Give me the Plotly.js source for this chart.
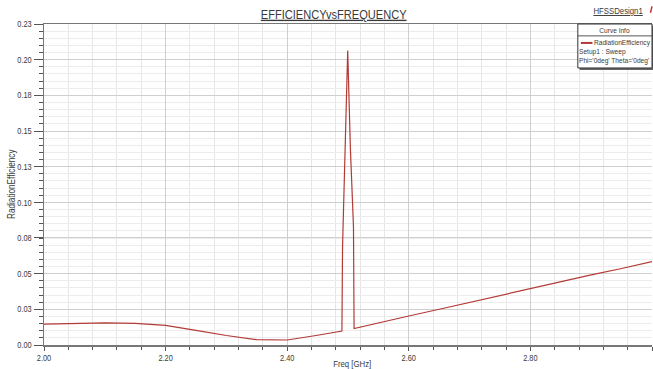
<!DOCTYPE html>
<html>
<head>
<meta charset="utf-8">
<script src="https://cdn.plot.ly/plotly-3.0.1.min.js"></script>
<style>html,body{margin:0;padding:0;background:#fff;}#chart{width:653px;height:369px;}</style>
</head>
<body>
<div id="chart"></div>
<script>
// Data
var freqGHz = [2.00, 2.05, 2.10, 2.15, 2.20, 2.25, 2.30, 2.35, 2.40, 2.45, 2.49, 2.491, 2.4995, 2.504, 2.509, 2.510, 2.55, 2.60, 2.65, 2.70, 2.75, 2.80, 2.85, 2.90, 2.95, 3.00];
var radiationEfficiency = [0.0150, 0.0155, 0.0158, 0.0155, 0.0141, 0.0105, 0.0068, 0.0038, 0.0036, 0.0070, 0.0100, 0.0700, 0.2110, 0.1400, 0.0850, 0.0118, 0.0160, 0.0208, 0.0256, 0.0305, 0.0355, 0.0408, 0.0455, 0.0502, 0.0548, 0.0597];
var xTickVals = [2.0, 2.2, 2.4, 2.6, 2.8, 3.0];
var xTickText = ['2.00', '2.20', '2.40', '2.60', '2.80', '3.00'];
var yTickVals = [0, 0.0256, 0.0511, 0.0767, 0.1022, 0.1278, 0.1533, 0.1789, 0.2044, 0.23];
var yTickText = ['0.00', '0.03', '0.05', '0.08', '0.10', '0.13', '0.15', '0.18', '0.20', '0.23'];
var seriesName = 'RadiationEfficiency';

var FONT = 'Liberation Sans, Arial, sans-serif';
var TXT = '#3a3a3a';
var SQUEEZE = 0.82;
var LEG_SIZE = 6.6;          // legend lines: small font, stretched vertically back to 8px height
var LEG_STRETCH = 8 / 6.6;

var yMinor = [];
for (var i = 0; i < 45; i++) { yMinor.push(i * 0.23 / 45); }

var trace = {
  x: freqGHz, y: radiationEfficiency, type: 'scatter', mode: 'lines',
  name: seriesName, line: {color: '#b23a36', width: 1.2}, showlegend: false
};

var layout = {
  width: 653, height: 369,
  margin: {l: 44, r: 1, t: 24, b: 24},
  paper_bgcolor: '#ffffff', plot_bgcolor: '#ffffff',
  font: {family: FONT, size: 9, color: TXT},
  title: {text: '<u>EFFICIENCYvsFREQUENCY</u>', font: {family: FONT, size: 13.5, color: TXT},
          x: 0.511, xanchor: 'center', y: 0.962, yanchor: 'middle'},
  xaxis: {
    range: [2.0, 3.0], tickmode: 'array', tickvals: xTickVals, ticktext: xTickText,
    ticks: 'outside', ticklen: 4, tickcolor: '#555', tickfont: {family: FONT, size: 9, color: TXT},
    showline: true, linecolor: '#777', linewidth: 1.5, mirror: true,
    showgrid: true, gridcolor: '#cfcfcf', gridwidth: 1, zeroline: false,
    minor: {dtick: 0.04, tick0: 2.0, ticks: 'outside', ticklen: 3, tickcolor: '#555', showgrid: true, gridcolor: '#e6e6e6'}
  },
  yaxis: {
    range: [0, 0.23], tickmode: 'array', tickvals: yTickVals, ticktext: yTickText,
    ticks: 'outside', ticklen: 9, tickcolor: '#555', tickfont: {family: FONT, size: 9, color: TXT},
    showline: true, linecolor: '#777', linewidth: 1.5,
    showgrid: true, gridcolor: '#cfcfcf', gridwidth: 1, zeroline: false,
    minor: {tickmode: 'array', tickvals: yMinor, ticks: 'outside', ticklen: 4, tickcolor: '#555', showgrid: true, gridcolor: '#ececec'}
  },
  shapes: [
    {type: 'rect', xref: 'paper', yref: 'paper', x0: 0.881, x1: 1.003, y0: 0.857, y1: 0.995, line: {width: 0}, fillcolor: '#666', layer: 'above'},
    {type: 'rect', xref: 'paper', yref: 'paper', x0: 0.878, x1: 1.0, y0: 0.863, y1: 1.0, line: {width: 1, color: '#333'}, fillcolor: '#ffffff', layer: 'above'},
    {type: 'line', xref: 'paper', yref: 'paper', x0: 0.878, x1: 1.0, y0: 0.963, y1: 0.963, line: {width: 1, color: '#555'}, layer: 'above'},
    {type: 'line', xref: 'paper', yref: 'paper', x0: 0.883, x1: 0.902, y0: 0.941, y1: 0.941, line: {width: 2, color: '#b23a36'}, layer: 'above'},
    {type: 'line', xref: 'paper', yref: 'paper', x0: 0.9975, x1: 1.0, y0: 1.035, y1: 1.055, line: {width: 1.5, color: '#d03030'}}
  ],
  annotations: [
    {xref: 'paper', yref: 'paper', x: 0.939, y: 0.981, text: 'Curve Info', showarrow: false, xanchor: 'center', yanchor: 'middle', font: {family: FONT, size: 8, color: TXT}},
    {xref: 'paper', yref: 'paper', x: 0.9025, y: 0.941, text: seriesName, showarrow: false, xanchor: 'left', yanchor: 'middle', borderpad: 0, font: {family: FONT, size: LEG_SIZE, color: TXT}},
    {xref: 'paper', yref: 'paper', x: 0.878, y: 0.912, text: 'Setup1 : Sweep', showarrow: false, xanchor: 'left', yanchor: 'middle', borderpad: 0, font: {family: FONT, size: LEG_SIZE, color: TXT}},
    {xref: 'paper', yref: 'paper', x: 0.878, y: 0.886, text: "Phi='0deg' Theta='0deg'", showarrow: false, xanchor: 'left', yanchor: 'middle', borderpad: 0, font: {family: FONT, size: LEG_SIZE, color: TXT}},
    {xref: 'paper', yref: 'paper', x: 0.944, y: 1.042, text: '<u>HFSSDesign1</u>', showarrow: false, xanchor: 'center', yanchor: 'middle', font: {family: FONT, size: 9.5, color: TXT}},
    {xref: 'paper', yref: 'paper', x: -0.054, y: 0.5, text: 'RadiationEfficiency', textangle: -90, showarrow: false, xanchor: 'center', yanchor: 'middle', font: {family: FONT, size: 10, color: TXT}},
    {xref: 'paper', yref: 'paper', x: 0.507, y: -0.059, text: 'Freq [GHz]', showarrow: false, xanchor: 'center', yanchor: 'middle', font: {family: FONT, size: 9.5, color: TXT}}
  ]
};

function squeeze(t) {
  var len = t.getComputedTextLength();
  if (len > 0) {
    t.setAttribute('textLength', (len * SQUEEZE).toFixed(2));
    t.setAttribute('lengthAdjust', 'spacingAndGlyphs');
  }
  return len;
}

Plotly.newPlot('chart', [trace], layout, {displayModeBar: false, staticPlot: true}).then(function (gd) {
  // condense text horizontally, like the narrow font of the original
  gd.querySelectorAll('svg text').forEach(function (t) {
    if (t.closest('.annotation')) return;
    squeeze(t);
  });
  gd.querySelectorAll('.annotation').forEach(function (g) {
    var idx = +g.getAttribute('data-index');
    var ann = layout.annotations[idx];
    var t = g.querySelector('text');
    if (!t || !ann) return;
    if (ann.xanchor === 'left') {
      // small font, stretched vertically about its centre line
      var bb = t.getBBox();
      var cy = bb.y + bb.height / 2;
      var prev = t.getAttribute('transform') || '';
      t.setAttribute('transform', prev + ' translate(0,' + cy.toFixed(2) + ') scale(1,' + LEG_STRETCH.toFixed(4) + ') translate(0,' + (-cy).toFixed(2) + ')');
      return;
    }
    var len = squeeze(t);
    var cut = len * (1 - SQUEEZE);
    var bg = g.querySelector('rect.bg');
    if (!ann.textangle && bg) {
      bg.setAttribute('x', (parseFloat(bg.getAttribute('x')) + cut / 2).toFixed(2));
      bg.setAttribute('width', Math.max(0, parseFloat(bg.getAttribute('width')) - cut).toFixed(2));
    }
  });
});
</script>
</body>
</html>
